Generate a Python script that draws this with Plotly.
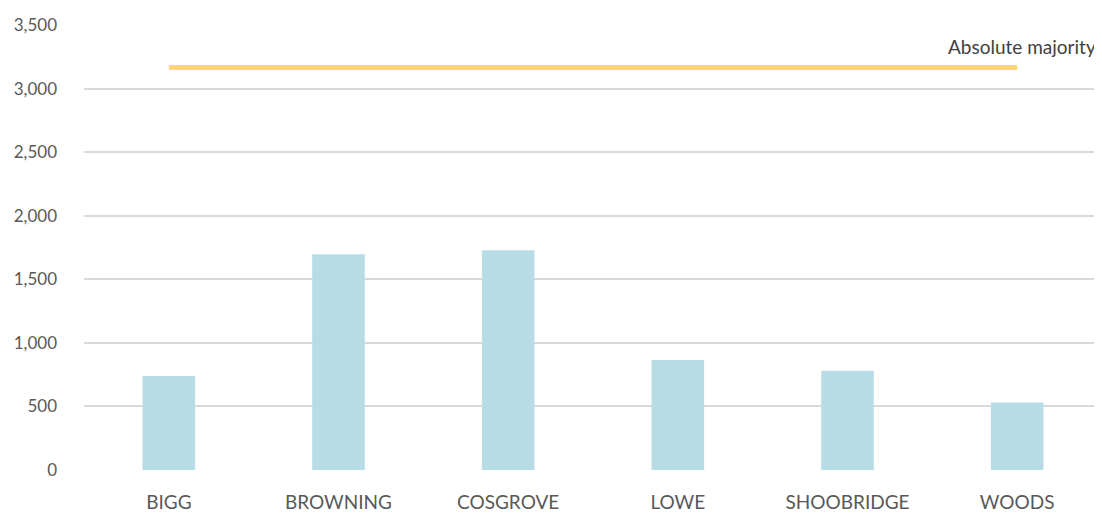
import plotly.graph_objects as go

categories = ["BIGG", "BROWNING", "COSGROVE", "LOWE", "SHOOBRIDGE", "WOODS"]
votes = [740, 1697, 1728, 866, 781, 530]
majority = [3166, 3166, 3166, 3166, 3166, 3166]
y_ticks = [0, 500, 1000, 1500, 2000, 2500, 3000, 3500]

font_family = "Lato, 'Open Sans', sans-serif"

fig = go.Figure()
fig.add_trace(go.Bar(
    x=categories, y=votes,
    marker=dict(color="#B8DCE5", line=dict(width=0)),
    name="Votes",
))
fig.add_trace(go.Scatter(
    x=categories, y=majority, mode="lines",
    line=dict(color="#FFD966", width=5),
    name="Absolute majority",
))

fig.add_annotation(
    x=1.0, xref="paper", xanchor="right",
    y=3330, yref="y", yanchor="middle",
    text="Absolute majority", showarrow=False,
    font=dict(family=font_family, size=19, color="#404040"),
    xshift=-4,
)

# page body has an 8px default margin; compensate so the plot area sits where the reference has it
fig.update_layout(
    width=1094, height=505,
    margin=dict(l=76, r=0, t=17, b=43),
    paper_bgcolor="white", plot_bgcolor="white",
    showlegend=False,
    bargap=0.69,
    font=dict(family=font_family, color="#595959"),
)
fig.update_xaxes(
    showgrid=False, showline=False, zeroline=False,
    tickfont=dict(size=19, color="#595959"),
    ticklabelstandoff=19,
)
fig.update_yaxes(
    range=[0, 3500], tickvals=y_ticks, tickformat=",",
    showgrid=True, gridcolor="#D9D9D9", gridwidth=1.5,
    zeroline=False, showline=False,
    tickfont=dict(size=17, color="#595959"),
    ticklabelstandoff=26,
)

fig.write_html("out.html")
